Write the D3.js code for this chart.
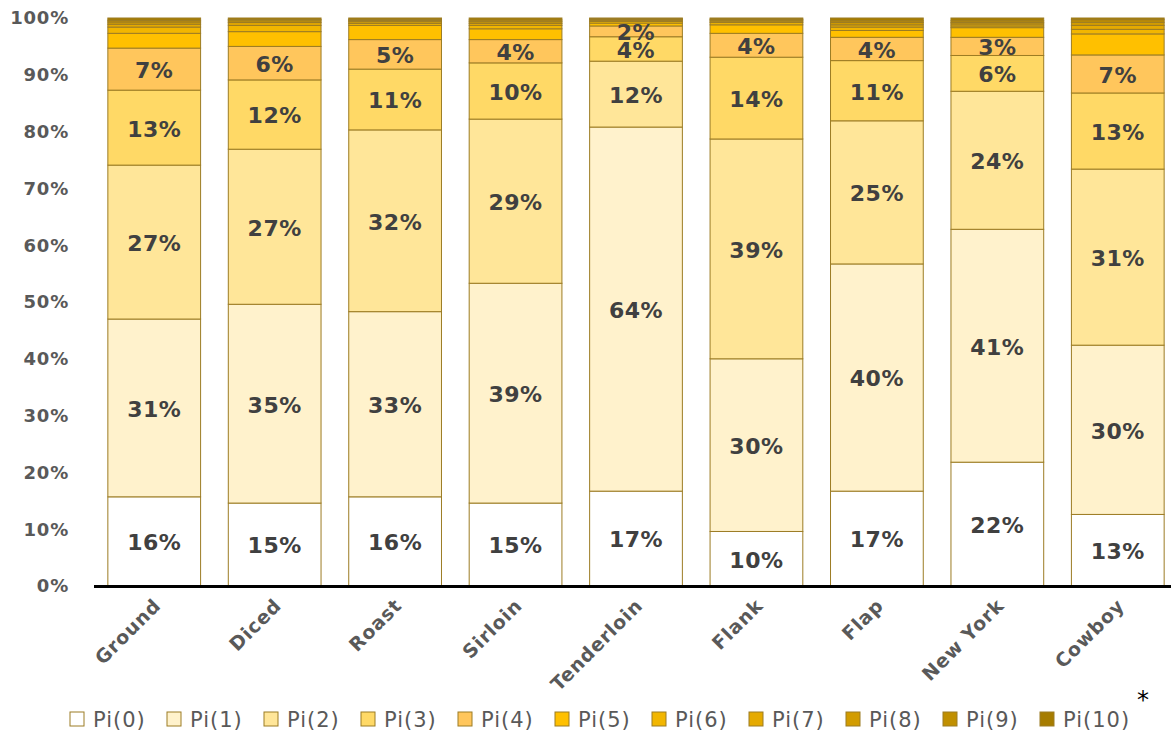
<!DOCTYPE html>
<html>
<head>
<meta charset="utf-8">
<script src="https://cdn.jsdelivr.net/npm/d3@7"></script>
<style>
  body { margin: 0; background: #ffffff; }
  svg { display: block; font-family: "DejaVu Sans", Verdana, sans-serif; }
</style>
</head>
<body>
<div id="chart"></div>
<script>
    // cuts of beef, share of each Pi(n) level (in %)
    var categories = ["Ground", "Diced", "Roast", "Sirloin", "Tenderloin", "Flank", "Flap", "New York", "Cowboy"];

    var pi0  = [15.7, 14.6, 15.7, 14.6, 16.7,  9.6, 16.7, 21.8, 12.6];
    var pi1  = [31.3, 35.0, 32.6, 38.7, 64.1, 30.4, 40.0, 41.0, 29.8];
    var pi2  = [27.1, 27.3, 32.0, 28.9, 11.6, 38.7, 25.2, 24.3, 31.0];
    var pi3  = [13.2, 12.2, 10.7,  9.9,  4.3, 14.4, 10.6,  6.3, 13.4];
    var pi4  = [ 7.4,  5.9,  5.2,  4.1,  1.9,  4.2,  4.1,  3.2,  6.7];
    var pi5  = [ 2.6,  2.6,  2.5,  1.9,  0.5,  1.5,  1.2,  1.7,  3.7];
    var pi6  = [ 1.1,  1.1, 0.35,  0.6,  0.3,  0.4,  0.6,  0.3,  0.8];
    var pi7  = [ 0.5,  0.5,  0.3, 0.35,  0.2, 0.25,  0.4, 0.35,  0.7];
    var pi8  = [ 0.4,  0.3,  0.2,  0.3, 0.15,  0.2,  0.4, 0.25, 0.55];
    var pi9  = [ 0.3, 0.25,  0.2,  0.3,  0.1, 0.15,  0.3,  0.3, 0.45];
    var pi10 = [ 0.4, 0.25, 0.25, 0.35, 0.15,  0.2,  0.5,  0.5,  0.3];

    var seriesNames = ["Pi(0)", "Pi(1)", "Pi(2)", "Pi(3)", "Pi(4)", "Pi(5)", "Pi(6)", "Pi(7)", "Pi(8)", "Pi(9)", "Pi(10)"];
    var seriesValues = [pi0, pi1, pi2, pi3, pi4, pi5, pi6, pi7, pi8, pi9, pi10];
    var yTicks = [0, 10, 20, 30, 40, 50, 60, 70, 80, 90, 100];

    var colors = ["#ffffff", "#fff2cc", "#ffe699", "#ffd966", "#ffc65c", "#ffc000",
                  "#f2b600", "#e5aa00", "#d29c00", "#c08f00", "#a67c00"];

    var WIDTH = 1171;
    var HEIGHT = 737;
    var margin = {top: 18, right: -7, bottom: 151, left: 94};
    var LABELED = 5; // only Pi(0)..Pi(4) carry value labels

    var rows = categories.map(function (c, i) {
        var row = {cat: c};
        seriesNames.forEach(function (s, j) { row[s] = seriesValues[j][i]; });
        return row;
    });

    var stack = d3.stack().keys(seriesNames).offset(d3.stackOffsetExpand);
    var layers = stack(rows);

    var x = d3.scaleBand()
        .domain(categories)
        .range([margin.left, WIDTH - margin.right])
        .paddingInner(0.23)
        .paddingOuter(0.115);

    var y = d3.scaleLinear()
        .domain([0, 1])
        .range([HEIGHT - margin.bottom, margin.top]);

    var svg = d3.select("#chart")
        .append("svg")
        .attr("width", WIDTH)
        .attr("height", HEIGHT);

    // y axis labels only, no line
    svg.append("g")
        .selectAll("text")
        .data(yTicks)
        .enter()
        .append("text")
        .attr("x", 69)
        .attr("y", function (d) { return y(d / 100); })
        .attr("dy", "0.36em")
        .attr("text-anchor", "end")
        .attr("font-size", 18)
        .attr("letter-spacing", 0.8)
        .attr("font-weight", "bold")
        .attr("fill", "#595959")
        .text(function (d) { return d + "%"; });

    var groups = svg.append("g")
        .selectAll("g")
        .data(layers)
        .enter()
        .append("g")
        .attr("fill", function (d, i) { return colors[i]; });

    groups.selectAll("rect")
        .data(function (d) { return d; })
        .enter()
        .append("rect")
        .attr("x", function (d) { return x(d.data.cat); })
        .attr("y", function (d) { return y(d[1]); })
        .attr("width", x.bandwidth())
        .attr("height", function (d) { return y(d[0]) - y(d[1]); })
        .attr("stroke", "#9c7c24")
        .attr("stroke-width", 1);

    // value labels
    svg.append("g")
        .selectAll("g")
        .data(layers.slice(0, LABELED))
        .enter()
        .append("g")
        .selectAll("text")
        .data(function (d) {
            return d.map(function (p) { return {p: p, key: d.key}; });
        })
        .enter()
        .append("text")
        .attr("x", function (d) { return x(d.p.data.cat) + x.bandwidth() / 2; })
        .attr("y", function (d) { return (y(d.p[0]) + y(d.p[1])) / 2 + 1; })
        .attr("dy", "0.36em")
        .attr("text-anchor", "middle")
        .attr("font-size", 22)
        .attr("letter-spacing", 0.5)
        .attr("font-weight", "bold")
        .attr("fill", "#404040")
        .text(function (d) { return Math.round(d.p.data[d.key]) + "%"; });

    // x axis line
    svg.append("line")
        .attr("x1", 94)
        .attr("x2", WIDTH)
        .attr("y1", y(0) + 0.5)
        .attr("y2", y(0) + 0.5)
        .attr("stroke", "#000")
        .attr("stroke-width", 3);

    // category labels
    svg.append("g")
        .selectAll("text")
        .data(categories)
        .enter()
        .append("text")
        .attr("transform", function (d) {
            return "translate(" + (x(d) + x.bandwidth() / 2 + 3) + "," + (y(0) + 16) + ") rotate(-45)";
        })
        .attr("text-anchor", "end")
        .attr("dy", "0.36em")
        .attr("font-size", 19)
        .attr("letter-spacing", 0.8)
        .attr("font-weight", "bold")
        .attr("fill", "#595959")
        .text(function (d) { return d; });

    // legend
    var legend = svg.append("g")
        .selectAll("g")
        .data(seriesNames)
        .enter()
        .append("g")
        .attr("transform", function (d, i) { return "translate(" + (70 + i * 97) + ",719)"; });

    legend.append("rect")
        .attr("x", 0)
        .attr("y", -7)
        .attr("width", 14)
        .attr("height", 14)
        .attr("fill", function (d, i) { return colors[i]; })
        .attr("stroke", "#9c7c24")
        .attr("stroke-width", 1);

    legend.append("text")
        .attr("x", 23)
        .attr("dy", "0.36em")
        .attr("font-size", 21)
        .attr("letter-spacing", 1)
        .attr("fill", "#595959")
        .text(function (d) { return d; });

    svg.append("text")
        .attr("x", 1143)
        .attr("y", 708)
        .attr("text-anchor", "middle")
        .attr("font-size", 24)
        .attr("fill", "#000")
        .text("*");
</script>
</body>
</html>
